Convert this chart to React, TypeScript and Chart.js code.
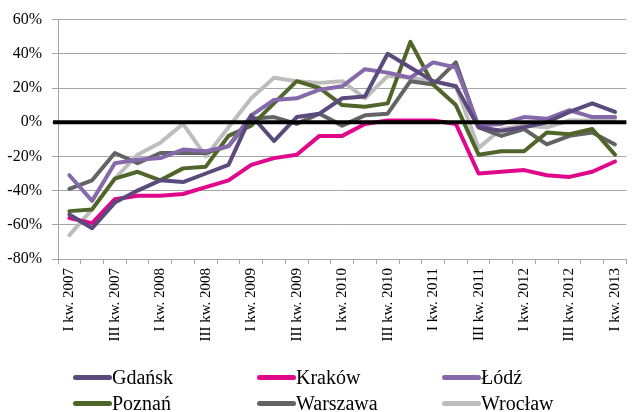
import React, { useEffect, useRef } from "react";
import { Chart, registerables } from "chart.js";

Chart.register(...registerables);

const quarters = [
  "I kw. 2007", "II kw. 2007", "III kw. 2007", "IV kw. 2007",
  "I kw. 2008", "II kw. 2008", "III kw. 2008", "IV kw. 2008",
  "I kw. 2009", "II kw. 2009", "III kw. 2009", "IV kw. 2009",
  "I kw. 2010", "II kw. 2010", "III kw. 2010", "IV kw. 2010",
  "I kw. 2011", "II kw. 2011", "III kw. 2011", "IV kw. 2011",
  "I kw. 2012", "II kw. 2012", "III kw. 2012", "IV kw. 2012",
  "I kw. 2013",
];

const gdansk = [-54, -62, -47, -40, -34, -35, -30, -25, 4, -11, 3, 5, 14, 15, 40, 32, 24, 21, -3, -5, -3, 0, 6, 11, 6];
const krakow = [-56, -59, -45, -43, -43, -42, -38, -34, -25, -21, -19, -8, -8, -1, 1, 1, 1, -1, -30, -29, -28, -31, -32, -29, -23];
const lodz = [-31, -46, -24, -22, -21, -16, -17, -14, 4, 13, 14, 19, 21, 31, 29, 26, 35, 32, -2, -1, 3, 2, 7, 3, 3];
const poznan = [-52, -51, -33, -29, -34, -27, -26, -8, -2, 11, 24, 20, 10, 9, 11, 47, 22, 10, -19, -17, -17, -6, -7, -4, -19];
const warszawa = [-39, -34, -18, -24, -18, -18, -18, -14, 2, 3, -1, 5, -2, 4, 5, 24, 22, 35, -3, -8, -4, -13, -8, -6, -13];
const wroclaw = [-66, -51, -33, -19, -12, -1, -20, -3, 14, 26, 24, 23, 24, 14, 27, 26, 24, 21, -15, -4, -2, -3, 1, 1, 2];

const seriesNames = ["Gdańsk", "Kraków", "Łódź", "Poznań", "Warszawa", "Wrocław"];
const seriesValues = [gdansk, krakow, lodz, poznan, warszawa, wroclaw];
const seriesColors = ["#5b4a7c", "#e0078b", "#8669ab", "#50652a", "#636363", "#bdbdbd"];

const yMin = -80;
const yMax = 60;
const yStep = 20;

const FONT = "'Liberation Serif', 'Times New Roman', serif";
const GRID = "#a6a6a6";

export default function App() {
  const ref = useRef<HTMLCanvasElement>(null);

  useEffect(() => {
    const zeroLine = {
      id: "zeroLine",
      afterDatasetsDraw(chart: any) {
        const { ctx, chartArea, scales } = chart;
        const y = scales.y.getPixelForValue(0);
        ctx.save();
        ctx.strokeStyle = "#000";
        ctx.lineWidth = 4;
        ctx.beginPath();
        ctx.moveTo(chartArea.left - 5, y);
        ctx.lineTo(chartArea.right, y);
        ctx.stroke();
        ctx.restore();
      },
    };

    const chart = new Chart(ref.current as HTMLCanvasElement, {
      type: "line",
      data: {
        labels: quarters,
        datasets: seriesNames.map((name, i) => ({
          label: name,
          data: seriesValues[i],
          borderColor: seriesColors[i],
          backgroundColor: seriesColors[i],
          borderWidth: 4,
          pointRadius: 0,
          tension: 0,
          borderCapStyle: "round" as const,
          borderJoinStyle: "round" as const,
          fill: false,
        })),
      },
      options: {
        animation: false,
        responsive: false,
        layout: { padding: { top: 19, left: 0, right: 0, bottom: 0 } },
        plugins: {
          legend: { display: false },
          tooltip: { enabled: false },
        },
        scales: {
          x: {
            offset: true,
            grid: { offset: true, drawOnChartArea: false, color: GRID, tickLength: 5 },
            border: { color: GRID, width: 1 },
            ticks: {
              autoSkip: false,
              maxRotation: 90,
              minRotation: 90,
              padding: 4,
              color: "#000",
              font: { family: FONT, size: 15 },
              callback: (_v: any, i: number) => (i % 2 === 0 ? quarters[i] : ""),
            },
            afterFit: (s: any) => {
              s.height = 153;
            },
          },
          y: {
            min: yMin,
            max: yMax,
            grid: { color: GRID, tickLength: 6 },
            border: { color: GRID, width: 1 },
            ticks: {
              stepSize: yStep,
              padding: 10,
              color: "#000",
              font: { family: FONT, size: 16 },
              callback: (v: any) => `${v}%`,
            },
            afterFit: (s: any) => {
              s.width = 58;
            },
          },
        },
      },
      plugins: [zeroLine],
    });
    return () => chart.destroy();
  }, []);

  const cols = [73, 257, 442];
  const rows = [377, 403];

  return (
    <div
      style={{
        position: "fixed",
        left: 0,
        top: 0,
        width: 633,
        height: 412,
        overflow: "hidden",
        background: "#fff",
      }}
    >
      <canvas ref={ref} width={637} height={412} style={{ display: "block" }} />
      {seriesNames.map((name, i) => (
        <div
          key={name}
          style={{
            position: "absolute",
            left: cols[i % 3],
            top: rows[Math.floor(i / 3)] - 12,
            height: 24,
            display: "flex",
            alignItems: "center",
            whiteSpace: "nowrap",
          }}
        >
          <span
            style={{
              display: "inline-block",
              width: 39,
              height: 5,
              borderRadius: 3,
              background: seriesColors[i],
            }}
          />
          <span style={{ fontFamily: FONT, fontSize: 20, lineHeight: "24px", color: "#000" }}>{name}</span>
        </div>
      ))}
    </div>
  );
}
